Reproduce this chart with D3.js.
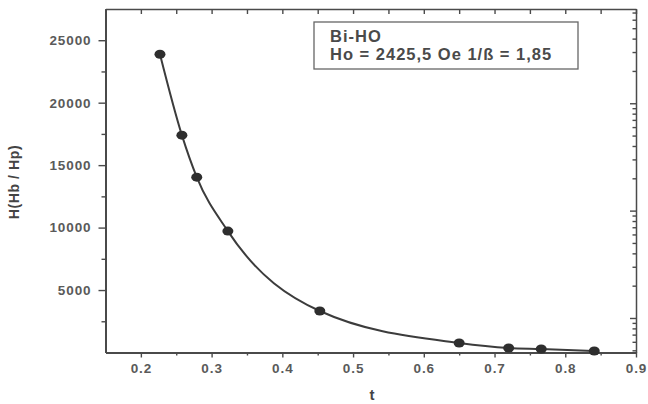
<!DOCTYPE html>
<html>
<head>
<meta charset="utf-8">
<script src="https://cdn.jsdelivr.net/npm/d3@7"></script>
<style>
    html, body { margin: 0; padding: 0; background: #fff; }
    #chart { width: 648px; height: 404px; }
    text { font-family: "Liberation Sans", Arial, sans-serif; }
</style>
</head>
<body>
<div id="chart"></div>
<script>
// defining global variables ==> data
const tValues = [0.227, 0.258, 0.279, 0.323, 0.453, 0.650, 0.720, 0.766, 0.841];
const hValues = [23880, 17400, 14040, 9720, 3320, 760, 360, 280, 120];

const xTicks = [0.2, 0.3, 0.4, 0.5, 0.6, 0.7, 0.8, 0.9];
const xMinorTicks = [0.25, 0.35, 0.45, 0.55, 0.65, 0.75, 0.85];
const yTicks = [5000, 10000, 15000, 20000, 25000];
const yMinorTicks = [2500, 7500, 12500, 17500, 22500];

// secondary (right) log axis, no labels
const logDomain = [0.477, 755];

const legendLines = ['Bi-HO', 'Ho = 2425,5 Oe 1/\u00df = 1,85'];
const xTitle = 't';
const yTitle = 'H(Hb / Hp)';

// selecting root element
const root = document.getElementById('chart');
const clientWidth = 648;
const clientHeight = 404;
const margin = {t: 9, r: 12, b: 51.5, l: 105.5};
const w = clientWidth - (margin.r + margin.l);
const h = clientHeight - (margin.t + margin.b);

const ink = '#4a4a4a';
const labelInk = '#5a5a5a';

// setting up scales
const scaleX = d3.scaleLinear().domain([0.15, 0.9]).range([0, w]);
const scaleY = d3.scaleLinear().domain([0, 27500]).range([h, 0]);
const scaleLog = d3.scaleLog().domain(logDomain).range([h, 0]);

const svg = d3.select(root)
    .append('svg')
    .attr('width', clientWidth)
    .attr('height', clientHeight);

svg.append('rect')
    .attr('width', clientWidth)
    .attr('height', clientHeight)
    .attr('fill', '#fff');

const plot = svg.append('g')
    .attr('transform', `translate(${margin.l},${margin.t})`);

// helper to style an axis group
function styleAxis(g, width) {
    g.select('.domain').attr('stroke', ink).attr('stroke-width', width);
    g.selectAll('.tick line').attr('stroke', ink).attr('stroke-width', 1.4);
    g.selectAll('.tick text')
        .attr('fill', labelInk)
        .style('font-size', '13.5px')
        .style('font-weight', 'bold')
        .style('letter-spacing', '0.9px');
}

/* TOP + RIGHT frame, ticks pointing inward */
plot.append('g')
    .call(d3.axisBottom(scaleX)
        .tickValues(d3.range(0.15, 0.9001, 0.05))
        .tickSize(5).tickSizeOuter(0).tickFormat(''))
    .call(g => styleAxis(g, 1.5));

const logTicks = scaleLog.ticks();
plot.append('g')
    .attr('transform', `translate(${w},0)`)
    .call(d3.axisLeft(scaleLog)
        .tickValues(logTicks)
        .tickSizeOuter(0).tickFormat(''))
    .call(g => styleAxis(g, 1.5))
    .selectAll('.tick line')
    .attr('x2', d => Math.abs(Math.log10(d) % 1) < 1e-6 ? -6 : -3.5);

/* LEFT axis */
plot.append('g')
    .call(d3.axisLeft(scaleY)
        .tickValues(yMinorTicks)
        .tickSize(4).tickSizeOuter(0).tickFormat(''))
    .call(g => styleAxis(g, 2));

plot.append('g')
    .call(d3.axisLeft(scaleY)
        .tickValues(yTicks)
        .tickSize(7).tickSizeOuter(0).tickPadding(7)
        .tickFormat(d3.format('d')))
    .call(g => styleAxis(g, 2));

/* BOTTOM axis */
plot.append('g')
    .attr('transform', `translate(0,${h})`)
    .call(d3.axisBottom(scaleX)
        .tickValues(xMinorTicks)
        .tickSize(3).tickSizeOuter(0).tickFormat(''))
    .call(g => styleAxis(g, 2));

plot.append('g')
    .attr('transform', `translate(0,${h})`)
    .call(d3.axisBottom(scaleX)
        .tickValues(xTicks)
        .tickSize(5).tickSizeOuter(0).tickPadding(6)
        .tickFormat(d3.format('.1f')))
    .call(g => styleAxis(g, 2));

/* AXIS TITLES */
svg.append('text')
    .attr('x', 372)
    .attr('y', 400)
    .attr('text-anchor', 'middle')
    .attr('fill', '#444')
    .style('font-size', '15px')
    .style('font-weight', 'bold')
    .text(xTitle);

svg.append('text')
    .attr('transform', 'translate(19,182) rotate(-90)')
    .attr('text-anchor', 'middle')
    .attr('fill', '#444')
    .style('font-size', '14px')
    .style('font-weight', 'bold')
    .style('letter-spacing', '0.6px')
    .text(yTitle);

/* FITTED CURVE + POINTS */
const pts = tValues.map((t, i) => ({t: t, h: hValues[i]}));

const line = d3.line()
    .x(d => scaleX(d.t))
    .y(d => scaleY(d.h))
    .curve(d3.curveMonotoneX);

plot.append('path')
    .datum(pts)
    .attr('d', line)
    .attr('fill', 'none')
    .attr('stroke', '#3c3c3c')
    .attr('stroke-width', 2);

plot.selectAll('.pt')
    .data(pts)
    .enter()
    .append('ellipse')
    .classed('pt', true)
    .attr('cx', d => scaleX(d.t))
    .attr('cy', d => scaleY(d.h))
    .attr('rx', 5.5)
    .attr('ry', 4.5)
    .attr('fill', '#2e2e2e');

/* LEGEND BOX */
const legend = svg.append('g')
    .attr('transform', 'translate(314,22)');

legend.append('rect')
    .attr('width', 264)
    .attr('height', 47)
    .attr('fill', '#fff')
    .attr('stroke', '#666')
    .attr('stroke-width', 1.3);

legend.selectAll('text')
    .data(legendLines)
    .enter()
    .append('text')
    .attr('x', 16)
    .attr('y', (d, i) => 19.5 + i * 18.5)
    .attr('fill', '#4a4a4a')
    .style('font-size', '16.5px')
    .style('font-weight', 'bold')
    .style('letter-spacing', '1px')
    .text(d => d);
</script>
</body>
</html>
